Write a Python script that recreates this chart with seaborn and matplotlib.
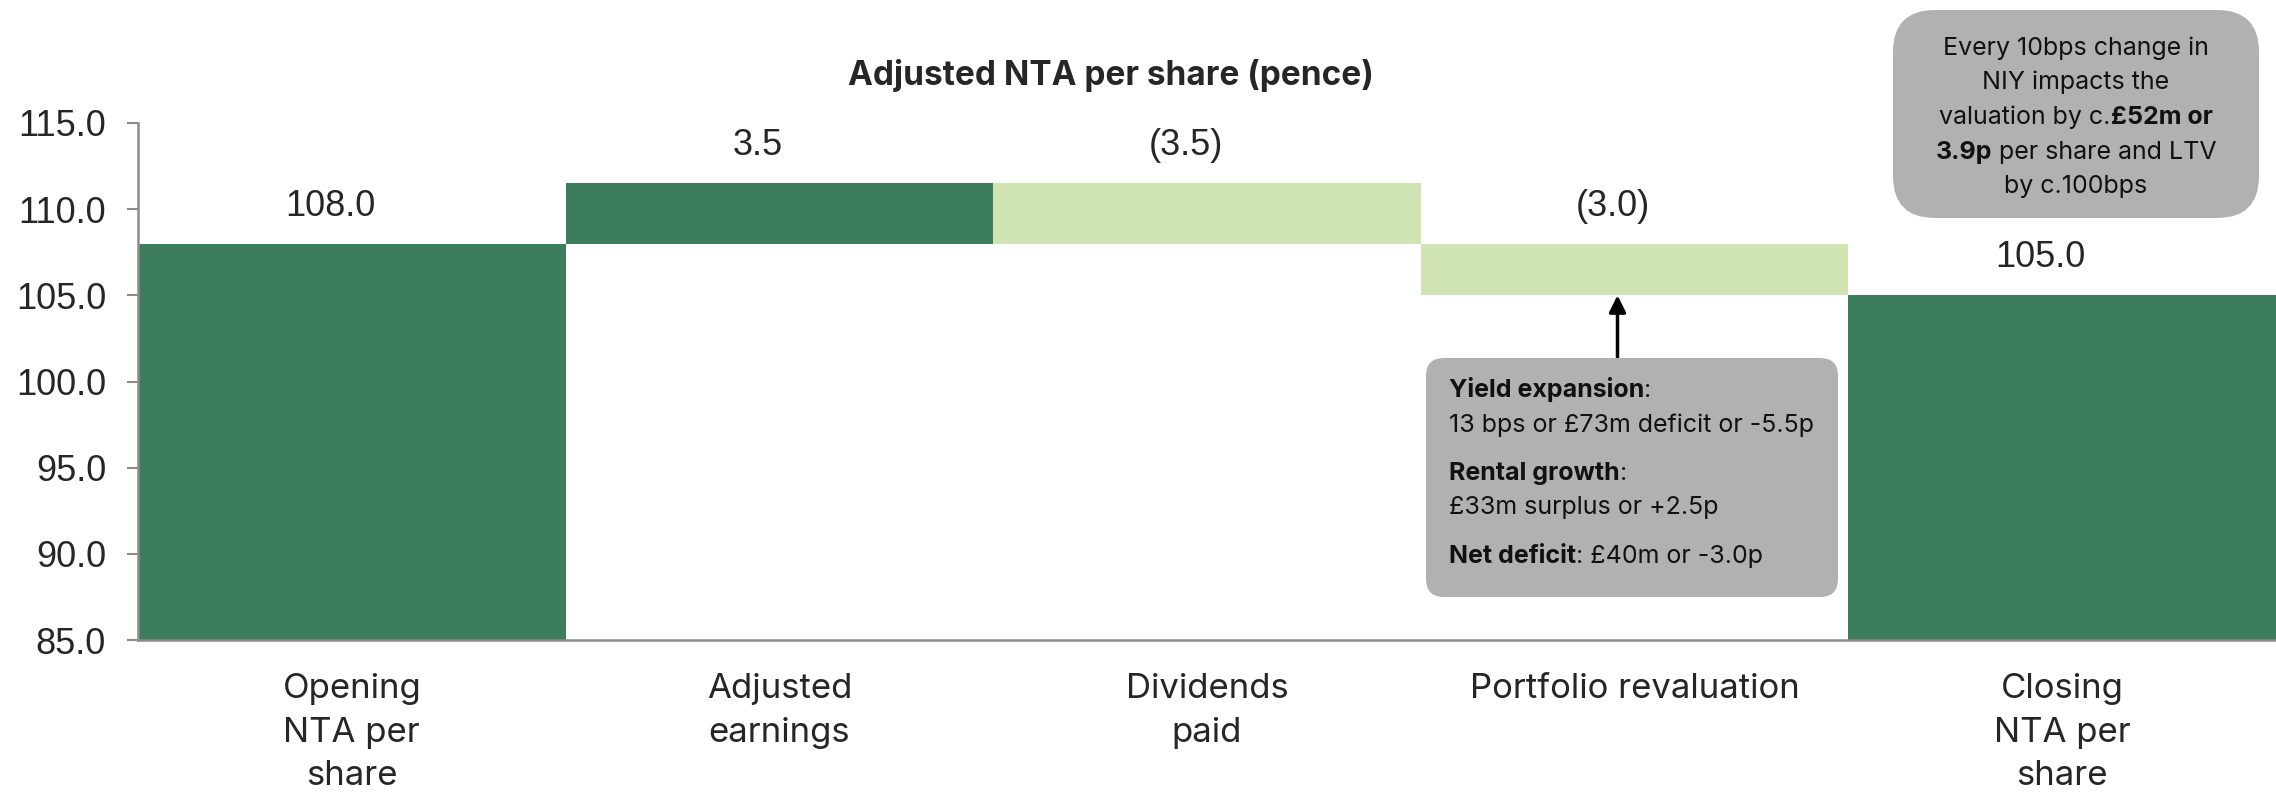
import matplotlib
matplotlib.use("Agg")
import matplotlib.pyplot as plt
from matplotlib.patches import FancyBboxPatch
import numpy as np
import pandas as pd
import seaborn as sns

# data
categories = ["Opening\nNTA per\nshare", "Adjusted\nearnings", "Dividends\npaid",
              "Portfolio revaluation", "Closing\nNTA per\nshare"]
values = [108.0, 3.5, -3.5, -3.0, 105.0]
kinds = ["total", "change", "change", "change", "total"]
value_labels = ["108.0", "3.5", "(3.5)", "(3.0)", "105.0"]
y_ticks = [85.0, 90.0, 95.0, 100.0, 105.0, 110.0, 115.0]

dark_green = "#3B7D5C"
light_green = "#D0E3B3"
box_grey = "#B1B1B1"
axis_grey = "#8C8C8C"

#
# waterfall bases
#
bottoms = []
running = 0.0
for v, k in zip(values, kinds):
    if k == "total":
        bottoms.append(0.0)
        running = v
    else:
        bottoms.append(running)
        running += v
tops = [b + v for b, v in zip(bottoms, values)]
colors = [dark_green if (k == "total" or v > 0) else light_green for v, k in zip(values, kinds)]

df = pd.DataFrame({"category": categories, "value": values, "bottom": bottoms, "color": colors})

sns.set_theme(style="white")
plt.rcParams["font.family"] = ["Liberation Sans", "DejaVu Sans"]

fig = plt.figure(figsize=(22.76, 7.95), dpi=100)
ax = fig.add_axes([138 / 2276, 1 - 640 / 795, 1 - 138 / 2276, (640 - 123) / 795])

for col in [dark_green, light_green]:
    sub = df[df["color"] == col]
    sns.barplot(data=sub, x="category", y="value", order=categories, color=col,
                width=1.0, bottom=sub["bottom"].values, saturation=1, errorbar=None,
                linewidth=0, ax=ax)

ax.set_ylim(85, 115)
ax.set_xlim(-0.5, 4.5)
ax.set_yticks(y_ticks)
ax.set_yticklabels(["%.1f" % t for t in y_ticks], fontsize=26)
ax.set_xlabel("")
ax.set_ylabel("")
ax.set_xticks(range(len(categories)))
ax.set_xticklabels(categories, fontsize=25, family=["Inter", "DejaVu Sans"], linespacing=1.45)
ax.tick_params(axis="x", length=0, pad=24)
ax.tick_params(axis="y", length=8, width=1.5, color=axis_grey, pad=15, left=True)

for s in ["top", "right"]:
    ax.spines[s].set_visible(False)
for s in ["left", "bottom"]:
    ax.spines[s].set_color(axis_grey)
    ax.spines[s].set_linewidth(1.8)

# value labels
for i, (b, t, lab) in enumerate(zip(bottoms, tops, value_labels)):
    ax.annotate(lab, xy=(i - 0.05, max(b, t)), xytext=(0, 27), textcoords="offset points",
                ha="center", va="center", fontsize=26)

fig.text(1111 / 2276, 1 - 75 / 795, "Adjusted NTA per share (pence)", ha="center", va="center",
         fontsize=24, fontweight="bold", family=["Inter", "DejaVu Sans"])

#
# note boxes
#
box_font = ["Inter", "DejaVu Sans"]
renderer = fig.canvas.get_renderer()


def text_width(s, bold, size):
    t1 = fig.text(0, 0, "a" + s + "a", fontsize=size, family=box_font,
                  fontweight="bold" if bold else "normal")
    t2 = fig.text(0, 0, "aa", fontsize=size, family=box_font,
                  fontweight="bold" if bold else "normal")
    w = (t1.get_window_extent(renderer).width - t2.get_window_extent(renderer).width) / fig.dpi
    t1.remove()
    t2.remove()
    return w


def rich_line(x, y, parts, ha="left", size=17):
    widths = [text_width(s, b, size) for s, b in parts]
    start = x - sum(widths) / 2 if ha == "center" else x
    for (s, b), w in zip(parts, widths):
        fig.text(start, y, s, transform=fig.dpi_scale_trans, fontsize=size, family=box_font,
                 fontweight="bold" if b else "normal", va="baseline", ha="left", color="#111111")
        start += w


fig.patches.append(FancyBboxPatch((14.26, 1.98), 4.12, 2.39, boxstyle="round,pad=0,rounding_size=0.18",
                                  transform=fig.dpi_scale_trans, facecolor=box_grey, edgecolor="none",
                                  figure=fig))
rich_line(14.49, 3.98, [("Yield expansion", True), (":", False)], size=18)
rich_line(14.49, 3.63, [("13 bps or £73m deficit or -5.5p", False)], size=18)
rich_line(14.49, 3.15, [("Rental growth", True), (":", False)], size=18)
rich_line(14.49, 2.81, [("£33m surplus or +2.5p", False)], size=18)
rich_line(14.49, 2.32, [("Net deficit", True), (": £40m or -3.0p", False)], size=18)

fig.patches.append(FancyBboxPatch((18.93, 5.77), 3.66, 2.08, boxstyle="round,pad=0,rounding_size=0.42",
                                  transform=fig.dpi_scale_trans, facecolor=box_grey, edgecolor="none",
                                  figure=fig))
rich_line(20.76, 7.40, [("Every 10bps change in", False)], ha="center", size=18)
rich_line(20.76, 7.055, [("NIY impacts the", False)], ha="center", size=18)
rich_line(20.76, 6.71, [("valuation by c.", False), ("£52m or", True)], ha="center", size=18)
rich_line(20.76, 6.365, [("3.9p", True), (" per share and LTV", False)], ha="center", size=18)
rich_line(20.76, 6.02, [("by c.100bps", False)], ha="center", size=18)

# arrow from box to revaluation bar
ax.annotate("", xy=(2.96, tops[3]), xytext=(2.96, 101.4),
            arrowprops=dict(arrowstyle="-|>", color="black", lw=2.5, mutation_scale=25,
                            shrinkA=0, shrinkB=0))

fig.savefig("out.png", dpi=100)
